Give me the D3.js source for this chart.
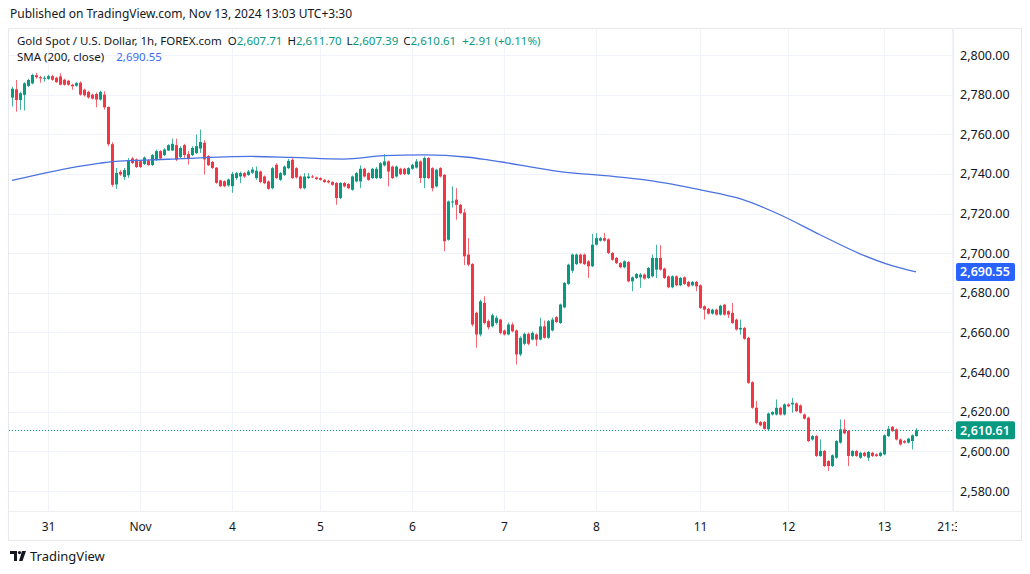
<!DOCTYPE html>
<html><head><meta charset="utf-8">
<script src="https://cdn.jsdelivr.net/npm/d3@7"></script>
<style>
html,body{margin:0;padding:0;background:#fff;}
svg{display:block;font-family:"Noto Sans","Liberation Sans",sans-serif;}
</style></head>
<body>
<svg id="chart" width="1030" height="574"></svg>
<script>
// ---------- DATA (1h candles, Oct 30 → Nov 13, 2024) ----------
const opens = [
2778.5,2782.7,2777.3,2779.9,2784.4,2785.7,2789.8,2788.8,2788.2,2788,
2789.3,2788.5,2789.2,2787.5,2787,2785,2784.5,2786,2782.5,2781.4,
2780,2780.3,2777.5,2780,2773.8,2755,2734.7,2741,2738.5,2739.3,
2747.8,2747.3,2746.4,2745,2746.8,2744.5,2747.2,2751.5,2749.5,2751.8,
2751.8,2754.5,2748.5,2754.5,2750,2749.5,2750.5,2752.8,2755.7,2749,
2746,2743.1,2736.7,2736.3,2734.2,2733.8,2737.9,2738.7,2740.4,2739.5,
2740.6,2737.9,2741.2,2738.7,2736.2,2732.8,2744.6,2737,2739.5,2742.9,
2747.1,2742.9,2738.7,2732.8,2737.9,2738.7,2738.2,2737.9,2737,2736.5,
2735.9,2735.4,2727.8,2735.4,2734.9,2732,2736.2,2736.2,2742.6,2740.4,
2737.9,2737.9,2737.9,2744.3,2746.3,2743.7,2738.7,2742.6,2742.6,2739.9,
2742.6,2743.2,2746.3,2737.9,2748,2742.9,2733.7,2742.9,2739.5,2706.8,
2725.6,2727,2724.4,2720.5,2699.3,2694.5,2669.9,2659,2674.9,2665.7,
2663.1,2664.8,2666.5,2661,2659,2664,2661,2648.9,2654.3,2659.3,
2656.4,2659,2656.4,2663.1,2657.3,2661,2667.7,2664.8,2672.7,2684.5,
2691.2,2694.5,2699.3,2699.3,2695.9,2693.4,2704.3,2706.3,2707.6,2707,
2700.1,2697.6,2695,2692.9,2695.5,2685.8,2687.5,2687.8,2689.2,2687.5,
2688.3,2691.7,2697.6,2692.2,2688.3,2682.8,2688.3,2683.8,2687.8,2685.5,
2683.8,2685.5,2683.8,2673.2,2671.9,2669.5,2671.5,2669,2674,2670.7,
2669.9,2666.5,2661.5,2662.3,2657.3,2634.9,2622,2614.8,2614.8,2611.1,
2618.6,2618.6,2622,2618.6,2623.7,2623.7,2624.2,2623.2,2618.6,2617,
2606,2607.7,2597.7,2600.2,2595.1,2592.6,2596.8,2604.4,2611.1,2610.3,
2597.7,2600.2,2596.8,2599.3,2596.8,2599.3,2598.5,2597.7,2598.5,2607.7,
2612.4,2611.1,2606,2605.2,2604.4,2605.2,2607.71];
const highs = [
2784,2787.4,2781.5,2786.2,2788,2790.6,2791,2789.5,2789.5,2790,
2790,2789,2790.8,2788,2787.5,2785.5,2786.5,2786.7,2783,2782,
2780.5,2781,2782,2781.7,2774,2756,2743,2742,2743,2748,
2748.5,2747.8,2747,2748.8,2747.3,2750,2752.3,2752,2753,2755,
2757.8,2757.8,2754,2755.2,2751.5,2754,2759.9,2762.4,2757,2749.5,
2746.5,2743.5,2737,2736.8,2737.7,2741,2741,2741.2,2741,2742,
2743.5,2743.7,2741.7,2739.2,2736.7,2743.5,2745.4,2741,2744.2,2747.6,
2748.3,2743.4,2739.2,2740.4,2740.4,2739.5,2738.7,2738.3,2737.4,2737,
2736.3,2735.9,2735.9,2735.9,2735.3,2739.2,2740.9,2744.3,2743.1,2740.9,
2743.1,2743.5,2746,2750,2746.8,2744.2,2744.2,2743.1,2743.1,2743.4,
2745.1,2747.5,2746.8,2748.8,2748.5,2743.4,2742.6,2743.4,2740,2726.6,
2733.7,2732.8,2724.9,2722.4,2707.6,2695,2670.5,2676.5,2678.3,2666.5,
2669.5,2668.5,2667,2661.5,2665,2665,2661.5,2658,2660,2660,
2660.5,2659.5,2667.4,2666,2666.3,2667.5,2668.2,2674.6,2685.5,2694.7,
2699.8,2699.8,2699.8,2699.8,2696.4,2709.7,2710.2,2708.2,2710.2,2707.5,
2700.6,2698.1,2695.5,2696.4,2696,2688.3,2690,2690,2689.7,2693,
2699.3,2704.3,2704,2692.7,2688.8,2688.8,2688.8,2688,2688.3,2686,
2686,2686,2684.3,2673.7,2672.4,2672,2672,2674,2674.5,2671.2,
2674.9,2667,2666.5,2662.8,2657.8,2635.4,2625.4,2615.3,2615.3,2619.6,
2620.3,2626.2,2622.5,2624.2,2624.2,2627,2624.7,2623.7,2619.1,2617.5,
2608.2,2608.2,2606,2600.7,2595.6,2598.5,2605.7,2616.1,2616.1,2610.8,
2600.7,2600.7,2599.8,2599.8,2600.2,2599.8,2599,2599.8,2608.6,2612.8,
2612.8,2611.6,2606.5,2605.7,2606.9,2608.6,2611.7];
const lows = [
2774,2771.4,2772.3,2772,2783.8,2785.2,2788,2786,2786.5,2787.5,
2787,2786,2784.7,2784.5,2784.5,2782.5,2784,2779.5,2779,2778,
2777.5,2773.6,2777,2772.5,2754,2733.5,2732.5,2739,2737,2738,
2745,2743,2743,2744.5,2744,2744,2746.5,2747.2,2749,2751.5,
2751.5,2746.5,2748,2748.1,2744.7,2749,2750,2750.6,2739.7,2744,
2742.5,2735,2733.3,2733.3,2733.5,2730.5,2737,2735.3,2738,2739,
2740,2737,2735.3,2734.8,2732,2732.3,2737.4,2736.5,2739,2742.4,
2737.4,2737.7,2732.3,2732.3,2737.4,2737.9,2737,2736.6,2735.5,2735.2,
2734,2724.4,2727.3,2733.2,2732.3,2731.5,2735.7,2732.8,2738.2,2736.5,
2737.4,2737.4,2737.4,2743.8,2733.7,2737.4,2738.2,2739.4,2739.4,2739.4,
2742.1,2742.7,2735.4,2732.8,2737.4,2731.2,2733.2,2738.2,2701,2706.3,
2723,2716.9,2719.7,2694,2693.4,2663,2652.3,2658,2664,2661.5,
2662.5,2664,2659,2658.5,2658.5,2660,2643.8,2648,2653.5,2653.5,
2656,2653.1,2656,2656.8,2656.8,2660.5,2664.8,2664.3,2672.2,2684,
2690,2694,2694.5,2694,2687.5,2693,2703.8,2705.8,2705.8,2699.6,
2696.2,2694.5,2692.4,2692.4,2685.3,2680.8,2687,2682.5,2686.7,2687,
2687.8,2687.5,2691.2,2687,2682.3,2682.3,2683.3,2683.3,2684,2682.8,
2683.3,2680.8,2671.9,2666.5,2669,2669,2668.5,2668.5,2668.5,2667.3,
2664.3,2661,2658.9,2656.3,2634.1,2621.5,2613.6,2612.6,2610.9,2610.6,
2618.1,2618.1,2618.1,2618.1,2622.3,2619.5,2619.8,2619,2616,2604.7,
2605.5,2597.2,2597.2,2592.1,2590.1,2592.1,2596.3,2603.9,2608.6,2592.6,
2597.2,2597.2,2596.3,2597.2,2595.1,2597.2,2597.2,2597.2,2598,2607.2,
2609.8,2605.5,2603,2603.9,2603.9,2601,2607.39];
const closes = [
2783,2777.3,2780.7,2785.7,2787.4,2789.9,2788.8,2788.2,2788.5,2789.3,
2787.5,2786.3,2785,2785,2785,2784.2,2785.8,2780,2779.7,2778.6,
2778,2777.5,2781.4,2773.6,2755,2734.5,2740.5,2739.7,2742,2746.5,
2745.5,2743.5,2743.5,2748.3,2744.5,2749.5,2751.5,2747.8,2752.3,2754.5,
2755.2,2747.2,2753.1,2749.5,2747.8,2753.1,2754,2756.1,2747.3,2744.4,
2743,2735.5,2733.8,2733.8,2737.2,2740,2740.4,2740.4,2738.7,2741.2,
2742.2,2741.6,2735.9,2735.3,2732.5,2742.9,2737.9,2740.4,2743.7,2746.6,
2737.9,2738.2,2732.8,2738.7,2738.7,2738.5,2737.4,2737,2735.9,2735.7,
2734.5,2727.8,2735.4,2733.7,2732.8,2738.7,2740.4,2742.6,2738.7,2737,
2742.6,2742.6,2745.4,2746.3,2741.2,2737.9,2743.7,2739.9,2739.9,2742.9,
2744.6,2746.3,2737.9,2748,2737.9,2732.8,2742.1,2738.7,2706,2726.1,
2726.1,2724.4,2720.2,2698.4,2694.2,2664,2659,2675.7,2664.8,2662.6,
2668.7,2667.4,2659.8,2659,2664,2660.6,2648.9,2657.3,2659.3,2654.3,
2659.8,2656.4,2663.1,2657.3,2665.7,2666.5,2665.3,2674.1,2685,2694.2,
2699.3,2699.3,2695,2694.5,2693.4,2704.3,2707.6,2707.6,2706.3,2700.1,
2696.7,2695,2692.9,2695.9,2685.8,2687.8,2689.5,2689.2,2687.2,2692.5,
2697.6,2697.6,2691.7,2687.5,2682.8,2688.3,2683.8,2687.5,2684.5,2683.3,
2685.5,2683.3,2672.4,2671.5,2669.5,2671.5,2669,2673.5,2669,2669,
2664.8,2661.5,2662.3,2656.8,2634.6,2622,2614.4,2613.1,2611.4,2619.1,
2619.8,2622,2618.6,2623.7,2622.8,2624.5,2620.3,2619.5,2616.5,2605.2,
2607.7,2597.7,2600.2,2592.6,2592.6,2598,2605.2,2611.1,2609.1,2597.7,
2600.2,2597.7,2599.3,2597.7,2599.7,2597.7,2597.7,2599.3,2608.1,2611.4,
2610.3,2606,2603.5,2604.4,2606.4,2608.1,2610.61];

// SMA(200) readings at selected candle indices
const smaIdx  = [0,10,22,25,39,60,70,83,93,103,114,119,137,152,160,172,182,192,202,212,220,226];
const smaVals = [2736.7,2741.2,2745.4,2746.2,2747.4,2748.8,2748.3,2747.5,2749.2,2749.6,2748.4,2747.1,2741.2,2738.4,2736.5,2732,2727.5,2719.4,2709.3,2699.7,2693.7,2690.55];

// time axis ticks (candle index → label)
const dayTickIdx = [9,32,55,77,100,123,146,172,194,218,235];
const dayTickLabels = ["31","Nov","4","5","6","7","8","11","12","13","21:30"];
// price axis ticks
const priceTicks = [2580,2600,2620,2640,2660,2680,2700,2720,2740,2760,2780,2800];

const lastPrice = 2610.61, smaLast = 2690.55;
const headerText = "Published on TradingView.com, Nov 13, 2024 13:03 UTC+3:30";
const legendParts = [
  ["Gold Spot / U.S. Dollar, 1h, FOREX.com", "dark", 0],
  ["O", "dark", 6], ["2,607.71", "up", 0],
  ["H", "dark", 5], ["2,611.70", "up", 0],
  ["L", "dark", 5], ["2,607.39", "up", 0],
  ["C", "dark", 5], ["2,610.61", "up", 0],
  ["+2.91 (+0.11%)", "up", 6]
];
const smaLegend = [["SMA (200, close)", "dark", 0], ["2,690.55", "sma", 12]];

// ---------- DRAWING ----------
const UP = "#089981", DOWN = "#f23645", SMA = "#2962ff", TXT = "#131722", GRID = "#f0f3fa";
const colorOf = {dark: TXT, up: UP, sma: "#3b6ef0"};
const svg = d3.select("#chart");

const plot = {left: 9, right: 953, top: 29, bottom: 511};
const x = d3.scaleLinear().domain([0, 226]).range([12, 916]);
const y = d3.scaleLinear().domain([2580, 2800]).range([491, 55]);

// header
svg.append("text").attr("x", 10).attr("y", 18).attr("font-size", 12).attr("fill", TXT).text(headerText);

// panel
svg.append("rect").attr("x", 8.5).attr("y", 28.5).attr("width", 1013).attr("height", 512)
  .attr("fill", "#fff").attr("stroke", "#e6e8ee");

svg.append("clipPath").attr("id", "pc").append("rect")
  .attr("x", plot.left).attr("y", plot.top).attr("width", plot.right - plot.left).attr("height", plot.bottom - plot.top);

const g = svg.append("g");
// grid
g.selectAll(".hg").data(priceTicks).join("line")
  .attr("x1", plot.left).attr("x2", plot.right)
  .attr("y1", d => Math.round(y(d)) + 0.5).attr("y2", d => Math.round(y(d)) + 0.5)
  .attr("stroke", GRID);
g.selectAll(".vg").data(dayTickIdx).join("line")
  .attr("x1", d => Math.round(x(d)) + 0.5).attr("x2", d => Math.round(x(d)) + 0.5)
  .attr("y1", plot.top).attr("y2", plot.bottom)
  .attr("stroke", GRID).attr("clip-path", "url(#pc)");

// axis separators
svg.append("line").attr("x1", plot.right + 0.5).attr("x2", plot.right + 0.5).attr("y1", plot.top).attr("y2", plot.bottom)
  .attr("stroke", "#eceef2");
svg.append("line").attr("x1", plot.left).attr("x2", 1021).attr("y1", plot.bottom + 0.5).attr("y2", plot.bottom + 0.5)
  .attr("stroke", "#eceef2");

// current price dotted line
g.append("line").attr("x1", plot.left).attr("x2", plot.right)
  .attr("y1", Math.round(y(lastPrice)) + 0.5).attr("y2", Math.round(y(lastPrice)) + 0.5)
  .attr("stroke", UP).attr("stroke-dasharray", "1,2").attr("stroke-width", 1);

// candles
const candles = d3.range(opens.length).map(i => ({i, o: opens[i], h: highs[i], l: lows[i], c: closes[i]}));
const cg = g.append("g").attr("clip-path", "url(#pc)");
cg.selectAll(".wick").data(candles).join("line")
  .attr("x1", d => Math.round(x(d.i)) + 0.5).attr("x2", d => Math.round(x(d.i)) + 0.5)
  .attr("y1", d => y(Math.max(d.h, d.o, d.c))).attr("y2", d => y(Math.min(d.l, d.o, d.c)))
  .attr("stroke", d => d.c >= d.o ? UP : DOWN).attr("stroke-width", 1).attr("opacity", 0.75);
cg.selectAll(".body").data(candles).join("rect")
  .attr("x", d => Math.round(x(d.i)) - 1).attr("width", 3)
  .attr("y", d => y(Math.max(d.o, d.c)))
  .attr("height", d => Math.max(1, Math.abs(y(d.o) - y(d.c))))
  .attr("fill", d => d.c >= d.o ? UP : DOWN);

// SMA
const smaPts = smaIdx.map((d, k) => [d, smaVals[k]]);
cg.append("path").datum(smaPts)
  .attr("d", d3.line().x(d => x(d[0])).y(d => y(d[1])).curve(d3.curveMonotoneX))
  .attr("fill", "none").attr("stroke", "#4a72e0").attr("stroke-width", 1.3);

// legend
const lg1 = svg.append("text").attr("x", 17).attr("y", 45).attr("font-size", 11.5);
legendParts.forEach(p => lg1.append("tspan").attr("dx", p[2]).attr("fill", colorOf[p[1]]).text(p[0]));
const lg2 = svg.append("text").attr("x", 17).attr("y", 61).attr("font-size", 11.5);
smaLegend.forEach(p => lg2.append("tspan").attr("dx", p[2]).attr("fill", colorOf[p[1]]).text(p[0]));

// right price axis
const yAxis = d3.axisRight(y).tickValues(priceTicks).tickFormat(d3.format(",.2f")).tickSize(0).tickPadding(0);
const ya = svg.append("g").attr("transform", `translate(${plot.right + 7},0)`).call(yAxis);
ya.select(".domain").remove();
ya.selectAll("text").attr("font-size", 12.5).attr("fill", TXT).attr("font-family", "Noto Sans, sans-serif");

// bottom time axis
svg.append("clipPath").attr("id", "ac").append("rect").attr("x", 0).attr("y", 0).attr("width", plot.right + 4).attr("height", 574);
const xAxis = d3.axisBottom(x).tickValues(dayTickIdx).tickFormat((d, k) => dayTickLabels[k]).tickSize(0).tickPadding(0);
const xa = svg.append("g").attr("transform", `translate(0,${plot.bottom + 11})`).attr("clip-path", "url(#ac)").call(xAxis);
xa.select(".domain").remove();
xa.selectAll("text").attr("font-size", 12).attr("fill", TXT).attr("font-family", "Noto Sans, sans-serif");

// price labels
function priceTag(v, fill) {
  const yy = y(v);
  svg.append("rect").attr("x", 956).attr("y", yy - 9).attr("width", 59).attr("height", 18).attr("rx", 2).attr("fill", fill);
  svg.append("text").attr("x", 960).attr("y", yy + 4.5).attr("font-size", 12.5).attr("fill", "#fff")
    .attr("font-weight", 600).text(d3.format(",.2f")(v));
}
priceTag(smaLast, SMA);
priceTag(lastPrice, UP);

// TradingView logo
const logo = svg.append("g").attr("transform", "translate(10,551)");
logo.append("path").attr("d", "M0,0 H7 V10 H4 V3 H0 Z").attr("fill", TXT);
logo.append("circle").attr("cx", 9.5).attr("cy", 1.6).attr("r", 1.6).attr("fill", TXT);
logo.append("path").attr("d", "M12,0 H16 L12.5,10 H9 Z").attr("fill", TXT);
svg.append("text").attr("x", 30).attr("y", 561).attr("font-size", 13).attr("fill", TXT)
  .attr("font-family", "Liberation Sans Narrow, Noto Sans, sans-serif").text("TradingView");
</script>
</body></html>
